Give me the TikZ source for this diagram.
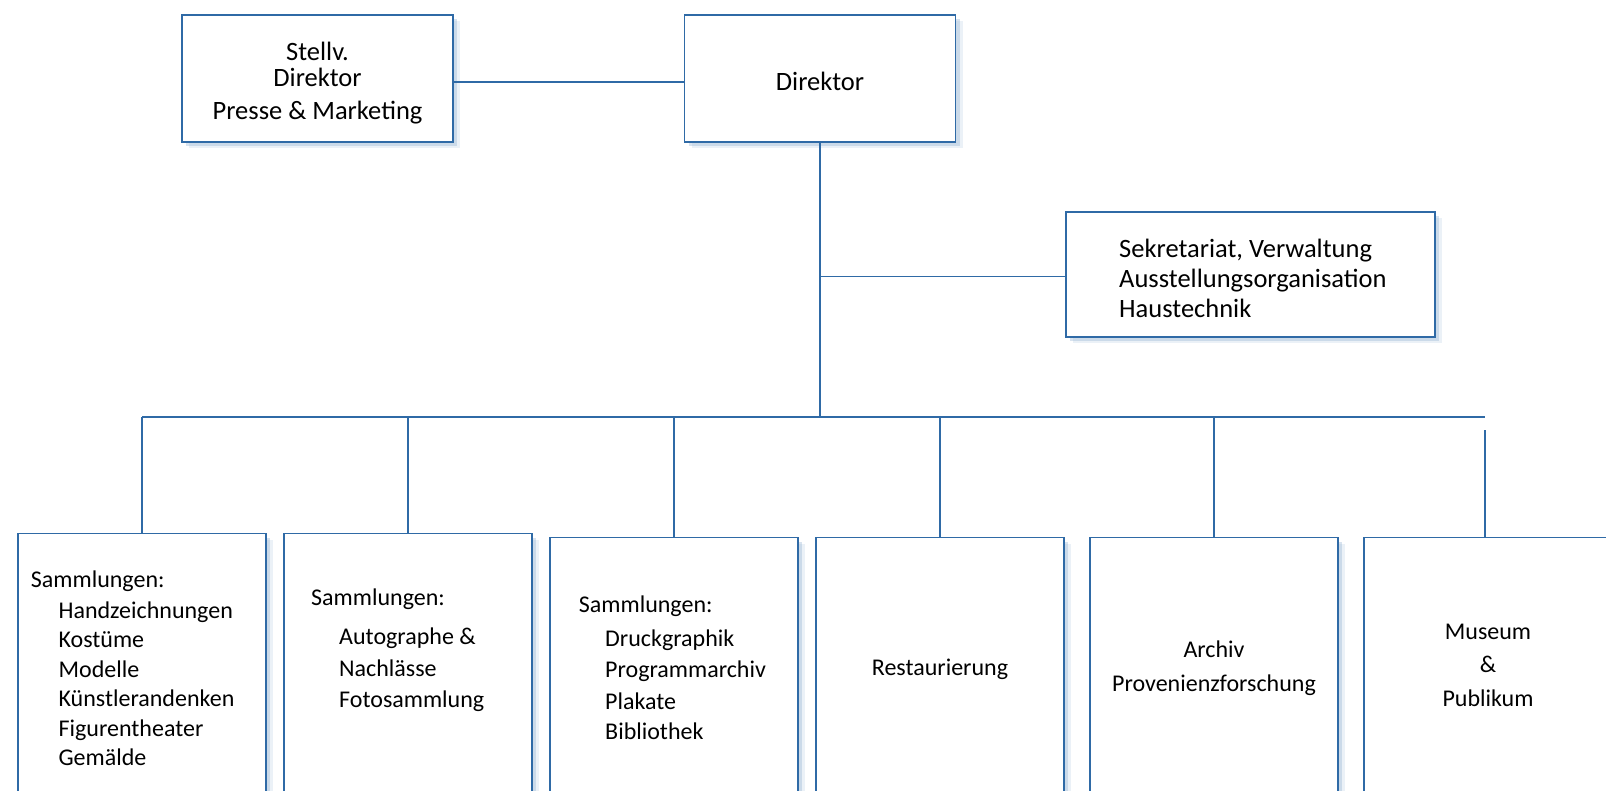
\documentclass[tikz,border=0pt]{standalone}
\usepackage{fontspec}
\setmainfont{Carlito}
\usetikzlibrary{shadows}
\definecolor{lineblue}{HTML}{2F6AA6}
\definecolor{shadowblue}{HTML}{8FAFD0}
\tikzset{
  orgbox/.style={draw=lineblue, line width=1.3pt, fill=white, inner sep=0pt,
    drop shadow={shadow xshift=7pt, shadow yshift=-6pt, fill=shadowblue, opacity=0.18},
    drop shadow={shadow xshift=4pt, shadow yshift=-4pt, fill=shadowblue, opacity=0.35}},
  conn/.style={draw=lineblue, line width=1.3pt},
  txt/.style={inner sep=0pt, font=\fontsize{24}{29.5}\selectfont, text=black},
  toptxt/.style={inner sep=0pt, font=\fontsize{26.5}{30}\selectfont, text=black},
}
\begin{document}
\begin{tikzpicture}[x=1pt, y=-1pt]
\useasboundingbox (0,0) rectangle (1606,790);
% top boxes
\node[orgbox, minimum width=271pt, minimum height=127pt] (stv) at (317.5,78.5) {};
\node[orgbox, minimum width=271pt, minimum height=127pt] (dir) at (820,78.5) {};
\node[orgbox, minimum width=369pt, minimum height=125pt] (sek) at (1250.5,274.5) {};
% bottom boxes
\node[orgbox, minimum width=248pt, minimum height=270pt, anchor=north] (b1) at (142,533) {};
\node[orgbox, minimum width=248pt, minimum height=270pt, anchor=north] (b2) at (408,533) {};
\node[orgbox, minimum width=248pt, minimum height=270pt, anchor=north] (b3) at (674,537) {};
\node[orgbox, minimum width=248pt, minimum height=270pt, anchor=north] (b4) at (940,537) {};
\node[orgbox, minimum width=248pt, minimum height=270pt, anchor=north] (b5) at (1214,537) {};
\node[orgbox, minimum width=248pt, minimum height=270pt, anchor=north] (b6) at (1488,537) {};
% texts
\node[toptxt, align=center] (tstv) at (317.5,83) {Stellv.\\[-3.5pt]Direktor\\[2.8pt]Presse \& Marketing};
\node[toptxt] (tdir) at (820,81) {Direktor};
\node[toptxt, align=left, anchor=west] (tsek) at (1119,278) {Sekretariat, Verwaltung\\Ausstellungsorganisation\\Haustechnik};
\node[txt, align=left, anchor=west] (t1) at (30.7,668) {Sammlungen:\\[1.5pt]
  \hspace*{27.7pt}Handzeichnungen\\\hspace*{27.7pt}Kostüme\\\hspace*{27.7pt}Modelle\\
  \hspace*{27.7pt}Künstlerandenken\\\hspace*{27.7pt}Figurentheater\\\hspace*{27.7pt}Gemälde};
\node[txt, align=left, anchor=west] (t2) at (311,650) {Sammlungen:\\[10pt]
  \hspace*{28pt}Autographe \&\\[2pt]\hspace*{28pt}Nachlässe\\[2pt]\hspace*{28pt}Fotosammlung};
\node[txt, align=left, anchor=west] (t3) at (578.7,668) {Sammlungen:\\[4pt]
  \hspace*{26.3pt}Druckgraphik\\[2pt]\hspace*{26.3pt}Programmarchiv\\[2pt]\hspace*{26.3pt}Plakate\\[1pt]\hspace*{26.3pt}Bibliothek};
\node[txt] (t4) at (940,669) {Restaurierung};
\node[txt, align=center] (t5) at (1214,668) {Archiv\\[4pt]Provenienzforschung};
\node[txt, align=center] (t6) at (1488,665) {Museum\\[4pt]\&\\[4pt]Publikum};
% connectors
\coordinate (bus) at (820,417);
\coordinate (busL) at (142,417);
\coordinate (busR) at (1485,417);
\coordinate (gap6) at (1485,430);
\coordinate (jsek) at (820,276.5);
\draw[conn] (stv.east |- 0,82) -- (dir.west |- 0,82);
\draw[conn] (dir.south) -- (bus);
\draw[conn] (jsek) -- (sek.west |- jsek);
\draw[conn] (busL) -- (busR);
\draw[conn] (busL) -- (b1.north);
\draw[conn] (b2.north |- bus) -- (b2.north);
\draw[conn] (b3.north |- bus) -- (b3.north);
\draw[conn] (b4.north |- bus) -- (b4.north);
\draw[conn] (b5.north |- bus) -- (b5.north);
\draw[conn] (gap6) -- (gap6 |- b6.north);
\end{tikzpicture}
\end{document}
